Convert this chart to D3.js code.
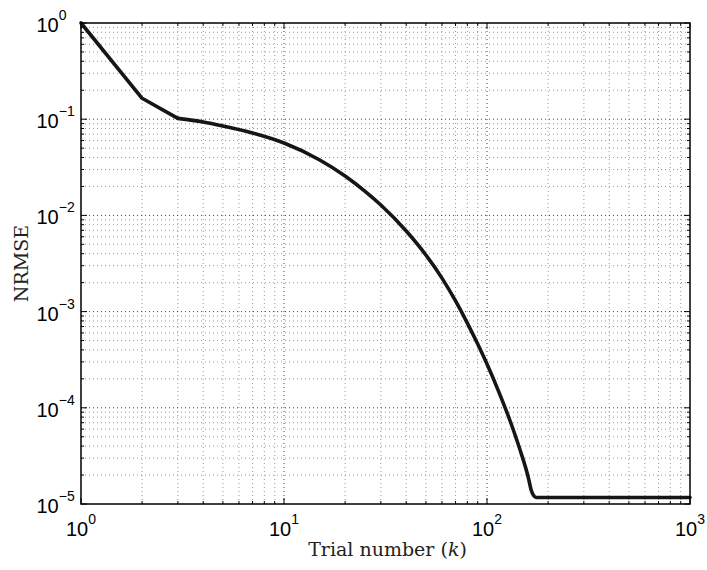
<!DOCTYPE html>
<html>
<head>
<meta charset="utf-8">
<script src="https://cdn.jsdelivr.net/npm/d3@7"></script>
<style>
  body { margin: 0; background: #fff; }
</style>
</head>
<body>
<div id="canvas"></div>
<script>
/* Configuration variables: drawing */
let svgWidth = 707;
let svgHeight = 570;
let plotLeft = 81;
let plotRight = 690;
let plotTop = 23;
let plotBottom = 504;

/* Data: trial number k and NRMSE */
let trials = [1, 2, 3, 4, 5, 7, 10, 15, 20, 25, 30, 40, 50, 60, 70, 80, 90, 100,
    115, 130, 145, 160, 165, 170, 175, 180, 1000];
let nrmse = [1, 0.165, 0.102, 0.0935, 0.085, 0.0719, 0.0566, 0.0377, 0.0257, 0.0179,
    0.01283, 0.00689, 0.00388, 0.00223, 0.00129, 0.00076, 0.00046, 0.000285,
    0.000142, 0.0000729, 0.0000373, 0.0000186, 0.000014, 0.0000122, 0.0000117,
    0.0000117, 0.0000117];

/* Axis limits and decade labels */
let xDomain = [1, 1000];
let yDomain = [1e-5, 1];
let xExponents = ["0", "1", "2", "3"];
let yExponents = ["0", "\u22121", "\u22122", "\u22123", "\u22124", "\u22125"];
let xLabel = "Trial number (";
let xLabelVar = "k";
let yLabel = "NRMSE";

let svg = d3.select("#canvas")
    .append("svg")
    .attr("width", svgWidth)
    .attr("height", svgHeight);

let xScale = d3.scaleLog()
    .domain(xDomain)
    .range([plotLeft, plotRight]);

let yScale = d3.scaleLog()
    .domain(yDomain)
    .range([plotBottom, plotTop]);

let xMajor = xScale.ticks().filter(d => Math.abs(Math.log10(d) % 1) < 1e-9);
let yMajor = yScale.ticks().filter(d => Math.abs(Math.log10(d) % 1) < 1e-9);

/* grid lines, dotted like matlab */
let grid = svg.append("g");
grid.selectAll(".gx")
    .data(xScale.ticks().filter(d => d > xDomain[0] && d < xDomain[1]))
    .enter().append("line")
    .attr("x1", d => xScale(d)).attr("x2", d => xScale(d))
    .attr("y1", plotTop).attr("y2", plotBottom)
    .attr("stroke", d => xMajor.includes(d) ? "#444" : "#999")
    .attr("stroke-width", 1)
    .attr("stroke-dasharray", "1,3");

grid.selectAll(".gy")
    .data(yScale.ticks().filter(d => d > yDomain[0] && d < yDomain[1]))
    .enter().append("line")
    .attr("x1", plotLeft).attr("x2", plotRight)
    .attr("y1", d => yScale(d)).attr("y2", d => yScale(d))
    .attr("stroke", d => yMajor.includes(d) ? "#444" : "#999")
    .attr("stroke-width", 1)
    .attr("stroke-dasharray", "1,3");

/* tick marks inside on all four sides */
let ticks = svg.append("g").attr("stroke", "#000").attr("stroke-width", 1);
xScale.ticks().forEach(function(d) {
    let len = xMajor.includes(d) ? 6 : 3;
    let x = xScale(d);
    ticks.append("line").attr("x1", x).attr("x2", x).attr("y1", plotBottom).attr("y2", plotBottom - len);
    ticks.append("line").attr("x1", x).attr("x2", x).attr("y1", plotTop).attr("y2", plotTop + len);
});
yScale.ticks().forEach(function(d) {
    let len = yMajor.includes(d) ? 6 : 3;
    let y = yScale(d);
    ticks.append("line").attr("x1", plotLeft).attr("x2", plotLeft + len).attr("y1", y).attr("y2", y);
    ticks.append("line").attr("x1", plotRight).attr("x2", plotRight - len).attr("y1", y).attr("y2", y);
});

/* the curve: straight kinks for first trials, smooth after k=3 */
let points = trials.map((k, i) => [k, nrmse[i]]);

let straight = d3.line()
    .x(d => xScale(d[0]))
    .y(d => yScale(d[1]));

let smooth = d3.line()
    .x(d => xScale(d[0]))
    .y(d => yScale(d[1]))
    .curve(d3.curveMonotoneX);

svg.append("path")
    .datum(points.slice(0, 3))
    .attr("d", straight)
    .attr("fill", "none")
    .attr("stroke", "#161616")
    .attr("stroke-width", 3.6)
    .attr("stroke-linejoin", "round")
    .attr("stroke-linecap", "round");

svg.append("path")
    .datum(points.slice(2))
    .attr("d", smooth)
    .attr("fill", "none")
    .attr("stroke", "#161616")
    .attr("stroke-width", 3.6)
    .attr("stroke-linejoin", "round")
    .attr("stroke-linecap", "round");

/* box */
svg.append("rect")
    .attr("x", plotLeft).attr("y", plotTop)
    .attr("width", plotRight - plotLeft)
    .attr("height", plotBottom - plotTop)
    .attr("fill", "none")
    .attr("stroke", "#000")
    .attr("stroke-width", 1.5);

/* tick labels: 10 with exponent */
let labelFont = "'Liberation Sans', Arial, sans-serif";
xMajor.forEach(function(d, i) {
    let t = svg.append("text")
        .attr("x", xScale(d))
        .attr("y", 536)
        .attr("text-anchor", "middle")
        .attr("font-family", labelFont)
        .attr("font-size", 20)
        .attr("fill", "#000");
    t.append("tspan").text("10");
    t.append("tspan").attr("dy", -12).attr("font-size", 14).text(xExponents[i]);
});

yMajor.slice().reverse().forEach(function(d, i) {
    let t = svg.append("text")
        .attr("x", 36.5)
        .attr("y", yScale(d) + 9)
        .attr("font-family", labelFont)
        .attr("font-size", 20)
        .attr("fill", "#000");
    t.append("tspan").text("10");
    t.append("tspan").attr("dy", -12).attr("font-size", 14).text(yExponents[i]);
});

/* axis titles */
let titleFont = "'DejaVu Serif', serif";
let xt = svg.append("text")
    .attr("x", (plotLeft + plotRight) / 2 + 2)
    .attr("y", 556)
    .attr("text-anchor", "middle")
    .attr("font-family", titleFont)
    .attr("font-size", 19)
    .attr("fill", "#222");
xt.append("tspan").text(xLabel);
xt.append("tspan").attr("font-style", "italic").text(xLabelVar);
xt.append("tspan").text(")");

svg.append("text")
    .attr("transform", `translate(28, ${(plotTop + plotBottom) / 2}) rotate(-90)`)
    .attr("text-anchor", "middle")
    .attr("font-family", titleFont)
    .attr("font-size", 19)
    .attr("fill", "#222")
    .text(yLabel);
</script>
</body>
</html>
